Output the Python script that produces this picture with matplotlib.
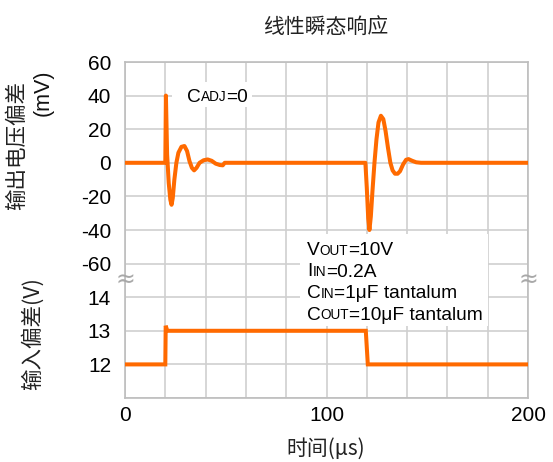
import matplotlib
matplotlib.use("Agg")
import matplotlib.pyplot as plt
from matplotlib.patches import Rectangle

W, H, DPI = 553, 462, 100

# Output voltage deviation during the load step (time in µs, deviation in mV)
out_t = [0, 20.0, 20.3, 20.9, 21.7, 22.5, 23.1, 23.7, 24.5, 25.5, 26.5, 28.0, 29.5,
         30.8, 32.0, 33.2, 34.3, 35.5, 37.0, 39.0, 41.0, 43.0, 45.0, 47.0, 48.5, 49.5,
         119.3, 120.0, 120.7, 121.3, 122.0, 122.8, 123.8, 124.8, 125.8, 127.0, 128.2,
         129.3, 130.5, 131.7, 132.8, 134.0, 135.3, 136.5, 138.0, 139.5, 140.7, 142.5,
         144.5, 146.9, 200]
out_mv = [0, 0, 40, 5, -12, -22, -25, -21, -10, 0, 6, 9.5, 10,
          7, 1, -3, -4.5, -3, 0, 1.5, 2, 1.2, -0.5, -1.3, -1.5, 0,
          0, -15, -33, -40, -32, -17, 0, 14, 24, 28, 26,
          19, 9, 0, -4.5, -6.5, -6.5, -5, -1, 1.8, 2.2, 1.2,
          0.3, 0, 0]

# Input voltage step (time in µs, volts)
in_t = [0, 20.0, 20.2, 21.0, 119.5, 120.5, 200]
in_v = [12, 12, 13.15, 13.0, 13.0, 12, 12]

out_ticks = [60, 40, 20, 0, -20, -40, -60]
in_ticks = [12, 13, 14]
x_labels = [0, 100, 200]

ORANGE = "#FF6A00"
GRID = "#CFCFCF"

plt.rcParams["font.family"] = ["Liberation Sans", "Noto Sans CJK SC", "DejaVu Sans"]
CJK = ["Noto Sans CJK SC", "Liberation Sans", "DejaVu Sans"]

fig = plt.figure(figsize=(W / DPI, H / DPI), dpi=DPI)


def fx(x):
    return x / W


def fy(y):
    return 1 - y / H


L, R, T, B = 125, 528, 62, 398
ax = fig.add_axes([fx(L), fy(B), fx(R) - fx(L), fy(T) - fy(B)])
ax.set_xlim(0, 200)
ax.set_ylim(-140, 60)
ax.set_axisbelow(True)
ax.set_xticks(range(0, 201, 20))
ax.set_xticklabels([str(v) if v in x_labels else "" for v in range(0, 201, 20)])
ax.set_yticks(range(-140, 61, 20))
ax.set_yticklabels([str(v) if v in out_ticks else "" for v in range(-140, 61, 20)])
ax.grid(True, color=GRID, lw=1.2)
ax.tick_params(axis="both", length=0, labelsize=15)
ax.tick_params(axis="y", pad=10)
ax.tick_params(axis="x", pad=6)
for s in ax.spines.values():
    s.set_color("#BDBDBD")
    s.set_linewidth(1.2)

ax.plot(out_t, out_mv, color=ORANGE, lw=2.9, solid_joinstyle="round",
        solid_capstyle="butt", zorder=3, clip_on=False)

# input voltage scale shares the plot area: 11 V .. 21 V over the same height
ax2 = ax.twinx()
ax2.set_ylim(11, 21)
ax2.yaxis.tick_left()
ax2.set_yticks(in_ticks)
ax2.set_yticklabels([str(v) for v in in_ticks])
ax2.tick_params(axis="y", length=0, labelsize=15, pad=10)
for s in ax2.spines.values():
    s.set_visible(False)
ax2.plot(in_t, in_v, color=ORANGE, lw=2.9, solid_joinstyle="miter", zorder=3)

# white boxes behind the annotations
for (x0, y0, x1, y1) in [(172, 82, 252, 107), (300, 234, 488, 326)]:
    ax.add_patch(Rectangle((fx(x0), fy(y1)), fx(x1) - fx(x0), fy(y0) - fy(y1),
                           transform=fig.transFigure, fc="white", ec="none",
                           zorder=1.5, clip_on=False))

BIG, SMALL = 13.8, 9.8


def caps_text(x, y, parts):
    """Write a run of text pieces with alternating large/small capitals."""
    prev = None
    for s, small in parts:
        size = SMALL if small else BIG
        if prev is None:
            prev = ax.annotate(s, xy=(fx(x), fy(y)), xycoords="figure fraction",
                               fontsize=size, ha="left", va="baseline",
                               zorder=4, annotation_clip=False)
            prev_size = size
        else:
            prev = ax.annotate(s, xy=(1, 0), xycoords=prev,
                               xytext=(0, 0.212 * prev_size), textcoords="offset points",
                               fontsize=size, ha="left", va="baseline",
                               zorder=4, annotation_clip=False)
            prev_size = size


caps_text(187, 101.5, [("C", False), ("ADJ", True), ("=0", False)])
caps_text(307, 255, [("V", False), ("OUT", True), ("=10V", False)])
caps_text(307, 276.5, [("I", False), ("IN", True), ("=0.2A", False)])
caps_text(307, 298, [("C", False), ("IN", True), ("=1μF tantalum", False)])
caps_text(307, 319.5, [("C", False), ("OUT", True), ("=10μF tantalum", False)])

# axis break marks
for bx in (L, R):
    fig.text(fx(bx), fy(280), "≈", fontsize=17, color="#A8A8A8",
             ha="center", va="center", family="DejaVu Sans")

# titles and axis labels
fig.text(fx(326), fy(27), "线性瞬态响应", fontsize=15, family=CJK,
         ha="center", va="center", color="#222222")
fig.text(fx(17), fy(145), "输出电压偏差", fontsize=15.5, family=CJK,
         rotation=90, ha="center", va="center", color="#222222")
fig.text(fx(43), fy(93), "(mV)", fontsize=15.5, rotation=90,
         ha="center", va="center", color="#111111")
fig.text(fx(33), fy(334), "输入偏差(V)", fontsize=15.5, family=CJK,
         rotation=90, ha="center", va="center", color="#222222")
fig.text(fx(326), fy(449), "时间(μs)", fontsize=15, family=CJK,
         ha="center", va="center", color="#222222")

fig.savefig("out.png", dpi=DPI)
